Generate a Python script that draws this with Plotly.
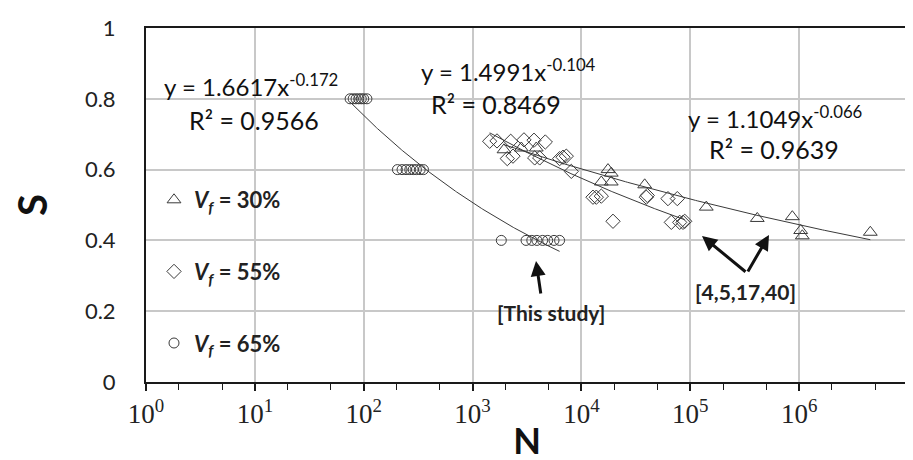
import numpy as np
import plotly.graph_objects as go

# ---------------- data ----------------
# V_f = 30 %  (triangles)
n30 = [1944, 2804, 3849, 17540, 18800, 15220, 18800, 38120, 140300, 412400,
       865500, 1033000, 1069000, 4506000]
s30 = [0.656, 0.661, 0.661, 0.600, 0.590, 0.565, 0.565, 0.557, 0.494, 0.462,
       0.467, 0.428, 0.413, 0.423]

# V_f = 55 %  (diamonds)
n55 = [1436, 1676, 2240, 2966, 3667, 4656, 2084, 2351, 3720, 4136, 6310, 6773,
       7261, 8072, 12770, 13700, 15220, 19500, 39450, 40280, 62370, 75990,
       66950, 79920, 85700, 88900]
s55 = [0.680, 0.681, 0.680, 0.684, 0.683, 0.678, 0.631, 0.638, 0.633, 0.633,
       0.631, 0.635, 0.638, 0.595, 0.522, 0.522, 0.525, 0.454, 0.522, 0.527,
       0.518, 0.518, 0.451, 0.451, 0.451, 0.454]

# V_f = 65 %  (circles, this study)
n65 = [75, 80, 85, 90, 95, 100, 107,
       204, 225, 245, 265, 285, 305, 330, 354,
       1836, 3100, 3500, 3900, 4400, 4900, 5600, 6300]
s65 = [0.8] * 7 + [0.6] * 8 + [0.4] * 8

# power-law trend lines  S = a * N^b  (as printed on the chart)
fit30 = (1.1049, -0.066, 0.9639)
fit55 = (1.4991, -0.104, 0.8469)
fit65 = (1.6617, -0.172, 0.9566)

names = ["<b><i>V</i><sub><i>f</i></sub> = 30%</b>",
         "<b><i>V</i><sub><i>f</i></sub> = 55%</b>",
         "<b><i>V</i><sub><i>f</i></sub> = 65%</b>"]

x_exponents = [0, 1, 2, 3, 4, 5, 6, 7]
y_ticks = [0, 0.2, 0.4, 0.6, 0.8, 1]

# ---------------- figure ----------------
MARK = "#3a3a3a"
FONT = "Lato"
GRID = "#c8c8c8"

fig = go.Figure()

def trend(n, fit):
    a, b, _ = fit
    xs = np.logspace(np.log10(min(n)), np.log10(max(n)), 200)
    return xs, a * xs ** b

for n, s, fit, sym, size, name, grp in [
        (n30, s30, fit30, "triangle-up-open", 12, names[0], "g1"),
        (n55, s55, fit55, "diamond-open", 11, names[1], "g2"),
        (n65, s65, fit65, "circle-open", 10, names[2], "g3")]:
    fig.add_trace(go.Scatter(x=n, y=s, mode="markers", name=name,
                             legendgroup=grp,
                             marker=dict(symbol=sym, size=size, color=MARK,
                                         line=dict(width=1, color=MARK))))
    xs, ys = trend(n, fit)
    fig.add_trace(go.Scatter(x=xs, y=ys, mode="lines", showlegend=False,
                             legendgroup=grp, hoverinfo="skip",
                             line=dict(color=MARK, width=1)))

# plot area in pixels
L, R, T, B = 138, 900, 20, 374
W, H = 913, 460

def px(x):
    return (x - L) / (R - L)

def py(y):
    return (B - y) / (B - T)

def eq_text(fit):
    a, b, _ = fit
    return f"y = {a:.4f}x<sup>{b:g}</sup>"

def r2_text(fit):
    return f"R² = {fit[2]:.4f}"

TXT = dict(xref="paper", yref="paper", xanchor="center", yanchor="middle",
           showarrow=False)

ann = []
for fit, (ex, ey), (rx, ry) in [
        (fit65, (243, 77), (246, 112)),
        (fit55, (500, 62), (488, 96)),
        (fit30, (767, 109), (766, 141))]:
    ann.append(dict(x=px(ex), y=py(ey), text=eq_text(fit),
                    font=dict(family=FONT, size=24, color="#111111"), **TXT))
    ann.append(dict(x=px(rx), y=py(ry), text=r2_text(fit),
                    font=dict(family=FONT, size=25, color="#111111"), **TXT))

# "[This study]" label and arrow
ann.append(dict(x=px(543), y=py(304), text="<b>[This study]</b>",
                font=dict(family=FONT, size=21, color="#222222"), **TXT))
ARW = dict(xref="paper", yref="paper", text="", showarrow=True, arrowhead=2,
           arrowsize=1, arrowwidth=3, arrowcolor="#111111")
ann.append(dict(x=px(528), y=py(253), ax=5, ay=34, **ARW))

# "[4,5,17,40]" label and V-shaped arrows
ann.append(dict(x=px(737), y=py(283), text="<b>[4,5,17,40]</b>",
                font=dict(family=FONT, size=21, color="#222222"), **TXT))
ann.append(dict(x=px(694), y=py(228), ax=45, ay=37, **ARW))
ann.append(dict(x=px(761), y=py(227), ax=-22, ay=38, **ARW))

fig.update_layout(
    template="none",
    width=W, height=H,
    margin=dict(l=L, r=W - R, t=T, b=H - B, autoexpand=False),
    paper_bgcolor="white", plot_bgcolor="white",
    font=dict(family=FONT, color="#222222"),
    annotations=ann,
    legend=dict(x=px(146), y=py(171), xanchor="left", yanchor="top",
                xref="paper", yref="paper",
                bgcolor="rgba(0,0,0,0)", tracegroupgap=40,
                font=dict(family=FONT, size=22, color="#222222"),
                itemsizing="trace"),
    showlegend=True,
)

fig.update_xaxes(
    type="log", range=[0, 7],
    tickmode="array",
    tickvals=[10 ** e for e in x_exponents],
    ticktext=[f"10<sup>{e}</sup>" for e in x_exponents],
    showgrid=True, gridcolor=GRID, gridwidth=1.5,
    showline=True, linecolor="#1a1a1a", linewidth=2, mirror=True,
    ticks="outside", ticklen=7, tickcolor="#1a1a1a", tickwidth=1.5,
    minor=dict(ticks="outside", ticklen=6, tickcolor="#1a1a1a",
               tickwidth=1, showgrid=False),
    tickfont=dict(family="Liberation Serif", size=27, color="#222222"),
    title=dict(text="<b>N</b>", font=dict(family=FONT, size=36, color="#111111"),
               standoff=0),
    automargin=False, zeroline=False,
)
fig.update_yaxes(
    range=[0, 1], tickmode="array", tickvals=y_ticks, tickformat="~g",
    showgrid=True, gridcolor=GRID, gridwidth=1.5,
    showline=True, linecolor="#1a1a1a", linewidth=2, mirror=True,
    ticks="", ticklabelstandoff=24,
    tickfont=dict(family=FONT, size=22, color="#222222"),
    title=dict(text="<b>S</b>", font=dict(family=FONT, size=40, color="#111111"),
               standoff=36),
    automargin=False, zeroline=False,
)

fig.write_html("out.html")
